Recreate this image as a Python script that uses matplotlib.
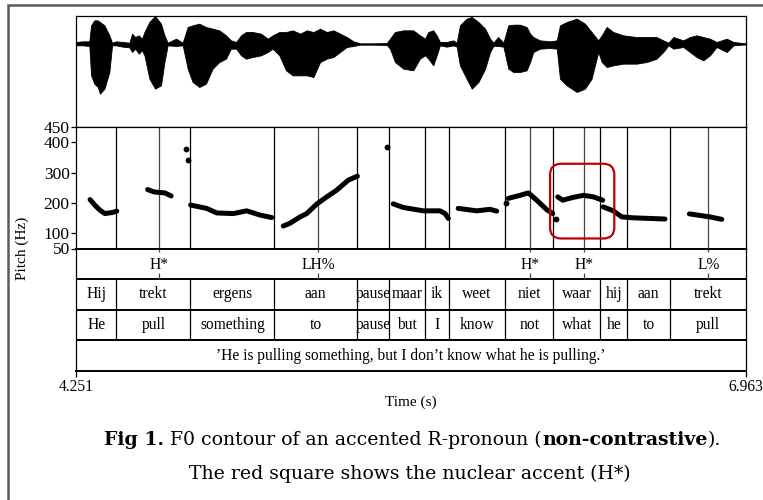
import matplotlib
matplotlib.use('Agg')
import matplotlib.pyplot as plt
from matplotlib.patches import FancyBboxPatch, Rectangle
import numpy as np

plt.rcParams['font.family'] = ['Liberation Serif', 'DejaVu Serif']

W, H = 763, 500
T0, T1 = 4.251, 6.963

# ---------------- waveform envelope ----------------
wave_t = [4.251, 4.278, 4.305, 4.312, 4.325, 4.339, 4.348, 4.366, 4.386, 4.397,
          4.413, 4.440, 4.467, 4.478, 4.491, 4.505, 4.518, 4.528, 4.548, 4.571,
          4.595, 4.609, 4.622, 4.656, 4.683, 4.703, 4.723, 4.750, 4.777, 4.804,
          4.831, 4.858, 4.878, 4.899, 4.919, 4.939, 4.966, 5.000, 5.027, 5.047,
          5.074, 5.101, 5.128, 5.158, 5.185, 5.212, 5.239, 5.266, 5.293, 5.320,
          5.347, 5.374, 5.401, 5.455, 5.509, 5.522, 5.542, 5.576, 5.616, 5.643,
          5.664, 5.677, 5.697, 5.711, 5.724, 5.751, 5.778, 5.792, 5.805, 5.832,
          5.853, 5.880, 5.907, 5.927, 5.940, 5.960, 5.981, 6.001, 6.021, 6.048,
          6.075, 6.089, 6.102, 6.129, 6.170, 6.197, 6.210, 6.237, 6.278, 6.311,
          6.338, 6.365, 6.379, 6.399, 6.426, 6.466, 6.520, 6.561, 6.601, 6.628,
          6.649, 6.669, 6.709, 6.736, 6.763, 6.790, 6.817, 6.844, 6.885, 6.912,
          6.963]
wave_up = [0.055, 0.079, 0.079, 0.661, 0.842, 0.842, 0.782, 0.661, 0.297, 0.030,
           0.079, 0.055, 0.030, 0.358, 0.236, 0.297, 0.176, 0.418, 0.782, 1.000,
           0.721, 0.297, 0.030, 0.176, 0.030, 0.600, 0.661, 0.721, 0.600, 0.539,
           0.479, 0.297, 0.115, 0.055, 0.297, 0.418, 0.418, 0.358, 0.176, 0.297,
           0.418, 0.418, 0.479, 0.358, 0.479, 0.418, 0.539, 0.418, 0.479, 0.358,
           0.236, 0.079, 0.006, 0.006, 0.018, 0.176, 0.418, 0.479, 0.479, 0.297,
           0.176, 0.418, 0.479, 0.297, 0.055, 0.055, 0.115, 0.030, 0.661, 0.903,
           0.964, 0.782, 0.539, 0.176, 0.030, 0.236, 0.030, 0.661, 0.685, 0.685,
           0.600, 0.358, 0.236, 0.115, 0.079, 0.115, 0.661, 0.782, 0.903, 0.721,
           0.418, 0.115, 0.297, 0.600, 0.418, 0.297, 0.236, 0.236, 0.236, 0.115,
           0.030, 0.236, 0.115, 0.236, 0.297, 0.236, 0.176, 0.055, 0.176, 0.055,
           0.006]
wave_lo = [-0.067, -0.067, -0.091, -1.158, -1.461, -1.582, -1.824, -1.642, -1.036, -0.067,
           -0.067, -0.115, -0.139, -0.309, -0.188, -0.370, -0.248, -0.430, -1.279, -1.642,
           -1.521, -0.673, -0.067, -0.091, -0.067, -0.915, -1.400, -1.582, -1.461, -0.915,
           -0.673, -0.552, -0.188, -0.188, -0.430, -0.552, -0.491, -0.430, -0.309, -0.188,
           -0.430, -0.976, -1.158, -1.158, -1.158, -1.218, -0.673, -0.552, -0.491, -0.309,
           -0.127, -0.091, -0.042, -0.042, -0.055, -0.188, -0.673, -0.915, -0.976, -0.552,
           -0.430, -0.552, -0.794, -0.430, -0.067, -0.115, -0.067, -0.115, -0.794, -1.279,
           -1.642, -1.400, -0.915, -0.309, -0.091, -0.091, -0.115, -0.915, -1.036, -1.036,
           -0.976, -0.673, -0.309, -0.188, -0.164, -0.188, -1.279, -1.521, -1.764, -1.642,
           -1.279, -0.309, -0.673, -0.855, -0.794, -0.733, -0.733, -0.673, -0.552, -0.309,
           -0.067, -0.188, -0.127, -0.309, -0.491, -0.612, -0.430, -0.127, -0.309, -0.067,
           -0.030]

# ---------------- pitch (Hz) ----------------
pitch_time = [4.308, 4.328, 4.348, 4.368, 4.401, 4.416,
              4.541, 4.568, 4.611, 4.636,
              4.695,
              4.703,
              4.715, 4.780, 4.821, 4.888, 4.942, 4.996, 5.043,
              5.090, 5.117, 5.158, 5.185, 5.225, 5.266, 5.306, 5.353, 5.390,
              5.509,
              5.535, 5.576, 5.657, 5.724, 5.745, 5.758,
              5.798, 5.873, 5.927, 5.954,
              5.992,
              6.001, 6.048, 6.082, 6.116, 6.156, 6.181,
              6.193,
              6.201, 6.221, 6.262, 6.305, 6.345, 6.383,
              6.385, 6.426, 6.460, 6.507, 6.635,
              6.734, 6.817, 6.865]
pitch_hz = [211, 192, 176, 165, 169, 173,
            244, 236, 233, 223,
            378,
            341,
            193, 182, 167, 165, 174, 160, 152,
            124, 133, 154, 165, 196, 220, 242, 275, 288,
            383,
            197, 185, 174, 174, 165, 149,
            182, 174, 179, 173,
            201,
            215, 225, 233, 209, 178, 165,
            146,
            220, 209, 218, 225, 220, 209,
            187, 174, 154, 151, 147,
            164, 154, 146]
pitch_seg = [0, 0, 0, 0, 0, 0,
             1, 1, 1, 1,
             2,
             3,
             4, 4, 4, 4, 4, 4, 4,
             5, 5, 5, 5, 5, 5, 5, 5, 5,
             6,
             7, 7, 7, 7, 7, 7,
             8, 8, 8, 8,
             9,
             10, 10, 10, 10, 10, 10,
             11,
             12, 12, 12, 12, 12, 12,
             13, 13, 13, 13, 13,
             14, 14, 14]
pitch_yticks = [50, 100, 200, 300, 400, 450]

# ---------------- TextGrid ----------------
word_bounds = [4.414, 4.714, 5.054, 5.387, 5.519, 5.664, 5.760, 5.989,
               6.183, 6.373, 6.483, 6.655]
words = ['Hij', 'trekt', 'ergens', 'aan', 'pause', 'maar', 'ik', 'weet',
         'niet', 'waar', 'hij', 'aan', 'trekt']
gloss = ['He', 'pull', 'something', 'to', 'pause', 'but', 'I', 'know',
         'not', 'what', 'he', 'to', 'pull']
tone_times = [4.588, 5.232, 6.087, 6.307, 6.811]
tone_labels = ['H*', 'LH%', 'H*', 'H*', 'L%']
translation = '\u2019He is pulling something, but I don\u2019t know what he is pulling.\u2019'

# nuclear accent box (time range, Hz range)
box_t = [6.170, 6.430]
box_hz = [83, 329]

# ---------------- figure ----------------
fig = plt.figure(figsize=(W / 100, H / 100), dpi=100)
fig.patch.set_facecolor('white')

def fx(px):
    return px / W

def fy(py):
    return 1 - py / H

L, R = 76, 746
ax_w = fig.add_axes([fx(L), fy(127), fx(R) - fx(L), fy(16) - fy(127)])
ax_p = fig.add_axes([fx(L), fy(248.5), fx(R) - fx(L), fy(127) - fy(248.5)])
ax_t = fig.add_axes([fx(L), fy(371), fx(R) - fx(L), fy(248.5) - fy(371)])

for ax in (ax_w, ax_p, ax_t):
    ax.set_xlim(T0, T1)
    for s in ax.spines.values():
        s.set_linewidth(0.9)
        s.set_color('black')

# waveform
ax_w.fill_between(wave_t, wave_lo, wave_up, color='black', linewidth=0.6)
ax_w.plot(wave_t, np.zeros(len(wave_t)), color='black', lw=0.8)
ax_w.set_ylim(-3.036, 1.0)
ax_w.set_xticks([])
ax_w.set_yticks([])

# pitch
ax_p.set_ylim(50, 450)
ax_p.vlines(word_bounds, 50, 450, color='black', lw=0.9)
ax_p.vlines(tone_times, 50, 450, color='#444444', lw=0.9)
pt = np.array(pitch_time)
ph = np.array(pitch_hz)
ps = np.array(pitch_seg)
for sid in np.unique(ps):
    m = ps == sid
    if m.sum() == 1:
        ax_p.plot(pt[m], ph[m], 'o', color='black', ms=4.2, mew=0)
    else:
        ax_p.plot(pt[m], ph[m], '-', color='black', lw=3.6,
                  solid_capstyle='round', solid_joinstyle='round')
ax_p.set_yticks(pitch_yticks)
ax_p.set_yticklabels([str(v) for v in pitch_yticks])
ax_p.tick_params(axis='y', direction='out', length=3.5, width=0.9, pad=1,
                 labelsize=12.5)
ax_p.set_xticks([])

# nuclear accent box
px_per_s = (R - L) / (T1 - T0)
px_per_hz = (248.5 - 127) / 400.0
aspect = (1 / px_per_hz) / (1 / px_per_s)
box = FancyBboxPatch((box_t[0], box_hz[0]), box_t[1] - box_t[0], box_hz[1] - box_hz[0],
                     boxstyle='round,pad=0,rounding_size=%f' % (11 / px_per_s),
                     mutation_aspect=aspect, fill=False, edgecolor='#c00000',
                     linewidth=1.6, zorder=5)
ax_p.add_patch(box)

# tiers
ax_t.set_ylim(0, 4)
for yv in (1, 2, 3):
    ax_t.axhline(yv, color='black', lw=1.4)
ax_t.spines['bottom'].set_linewidth(1.4)
ax_t.spines['top'].set_linewidth(1.4)
ax_t.vlines(word_bounds, 1, 3, color='black', lw=0.9)
edges = [T0] + word_bounds + [T1]
for i in range(len(words)):
    xm = (edges[i] + edges[i + 1]) / 2
    ax_t.text(xm, 2.5, words[i], ha='center', va='center', fontsize=11.2)
    ax_t.text(xm, 1.5, gloss[i], ha='center', va='center', fontsize=11.2)
ax_t.vlines(tone_times, 3.0, 3.2, color='#444444', lw=0.9)
ax_t.vlines(tone_times, 3.9, 4.0, color='#444444', lw=0.9)
for tt, lab in zip(tone_times, tone_labels):
    ax_t.text(tt, 3.47, lab, ha='center', va='center', fontsize=11.2)
ax_t.text((T0 + T1) / 2, 0.5, translation, ha='center', va='center', fontsize=11.2)
ax_t.set_yticks([])
ax_t.set_xticks([T0, T1])
ax_t.set_xticklabels(['%.3f' % T0, '%.3f' % T1])
ax_t.tick_params(axis='x', direction='out', length=4, width=0.9, pad=2,
                 labelsize=11.2)

fig.text(fx(411), fy(402), 'Time (s)', ha='center', va='center', fontsize=11)
fig.text(fx(22), fy(248), 'Pitch (Hz)', ha='center', va='center',
         rotation=90, fontsize=11)

# outer frame
frame = Rectangle((fx(8), -0.1), 1.2, fy(5) + 0.1, transform=fig.transFigure,
                  fill=False, edgecolor='#5a5a5a', linewidth=1.8, clip_on=False)
fig.add_artist(frame)

# caption with mixed weights
cap_font = 'DejaVu Serif'
cap_size = 13.6
fig.canvas.draw()
renderer = fig.canvas.get_renderer()

def measure(s, weight):
    t = fig.text(0, 0, s, fontsize=cap_size, family=cap_font, fontweight=weight)
    w = t.get_window_extent(renderer).width
    t.remove()
    return w

space_w = measure('x x', 'normal') - measure('xx', 'normal')

def draw_line(pieces, cx, baseline_px):
    widths = []
    for s, wt in pieces:
        widths.append(space_w if s == ' ' else measure(s, wt))
    total = sum(widths)
    x = cx - total / 2
    for (s, wt), w in zip(pieces, widths):
        if s != ' ':
            fig.text(fx(x), fy(baseline_px), s, fontsize=cap_size, family=cap_font,
                     fontweight=wt, ha='left', va='baseline')
        x += w

line1 = [('Fig 1.', 'bold'), (' ', 'normal'),
         ('F0 contour of an accented R-pronoun (', 'normal'),
         ('non-contrastive', 'bold'), (').', 'normal')]
line2 = [('The red square shows the nuclear accent (H*)', 'normal')]
draw_line(line1, 412.5, 445)
draw_line(line2, 410, 479)

fig.savefig('out.png', dpi=100)
